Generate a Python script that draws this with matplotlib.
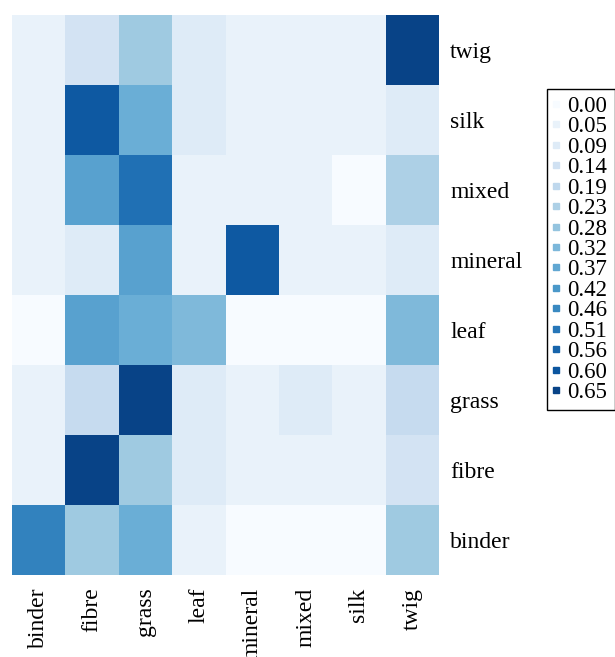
import numpy as np
import matplotlib
matplotlib.use("Agg")
import matplotlib.pyplot as plt
from matplotlib.lines import Line2D
from matplotlib.colors import Normalize

plt.rcParams['font.family'] = ['Liberation Serif', 'DejaVu Serif']

categories = ['binder', 'fibre', 'grass', 'leaf', 'mineral', 'mixed', 'silk', 'twig']

# rows listed from bottom (binder) to top (twig); columns binder..twig
row_binder  = [0.48, 0.26, 0.35, 0.05, 0.00, 0.00, 0.00, 0.26]
row_fibre   = [0.05, 0.65, 0.26, 0.09, 0.05, 0.05, 0.05, 0.13]
row_grass   = [0.05, 0.175, 0.65, 0.09, 0.05, 0.09, 0.05, 0.175]
row_leaf    = [0.00, 0.39, 0.35, 0.315, 0.00, 0.00, 0.00, 0.315]
row_mineral = [0.05, 0.09, 0.39, 0.05, 0.59, 0.05, 0.05, 0.09]
row_mixed   = [0.05, 0.39, 0.525, 0.05, 0.05, 0.05, 0.00, 0.23]
row_silk    = [0.05, 0.59, 0.35, 0.09, 0.05, 0.05, 0.05, 0.09]
row_twig    = [0.05, 0.13, 0.26, 0.09, 0.05, 0.05, 0.05, 0.65]

legend_labels = ['0.00', '0.05', '0.09', '0.14', '0.19', '0.23', '0.28', '0.32',
                 '0.37', '0.42', '0.46', '0.51', '0.56', '0.60', '0.65']

values = np.array([row_binder, row_fibre, row_grass, row_leaf,
                   row_mineral, row_mixed, row_silk, row_twig])

cmap = plt.get_cmap('Blues')
norm = Normalize(vmin=0.0, vmax=0.70)

fig = plt.figure(figsize=(6.15, 6.57), dpi=100)
ax = fig.add_axes([12/615, 1-575/657, (439-12)/615, (575-15)/657])
ax.pcolormesh(np.arange(len(categories)+1), np.arange(len(categories)+1),
              values, cmap=cmap, norm=norm)
ax.set_xlim(0, len(categories))
ax.set_ylim(0, len(categories))
ax.set_xticks(np.arange(len(categories)) + 0.5)
ax.set_yticks(np.arange(len(categories)) + 0.5)
ax.set_xticklabels(categories, rotation=90, fontsize=17)
ax.set_yticklabels(categories, fontsize=17)
ax.yaxis.tick_right()
ax.tick_params(axis='both', length=0)
ax.tick_params(axis='x', pad=9)
ax.tick_params(axis='y', pad=8)
for s in ax.spines.values():
    s.set_visible(False)

handles = [Line2D([], [], marker='s', linestyle='none', markersize=4.5,
                  markerfacecolor=cmap(norm(float(t))),
                  markeredgecolor=cmap(norm(float(t))))
           for t in legend_labels]
leg = fig.legend(handles, legend_labels, loc='upper left',
                 bbox_to_anchor=(547/615, 1-89/657), fontsize=16.5,
                 frameon=True, fancybox=False, edgecolor='black',
                 framealpha=1, handlelength=0.2, handletextpad=0.4,
                 labelspacing=-0.026, borderpad=0.3, borderaxespad=0)
leg.get_frame().set_linewidth(1.0)

fig.savefig('out.png', dpi=100)
